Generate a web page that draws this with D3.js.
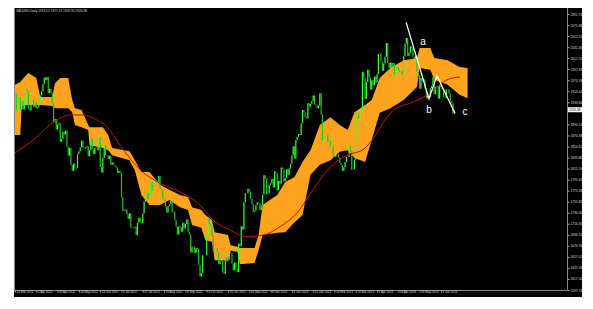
<!DOCTYPE html>
<html>
<head>
<meta charset="utf-8">
<script src="https://cdn.jsdelivr.net/npm/d3@7"></script>
<style>
  body { margin: 0; background: #fff; }
  text { font-family: "Liberation Sans", "DejaVu Sans", sans-serif; }
</style>
</head>
<body>
<svg id="chart" width="593" height="309"></svg>
<script>
// XAUUSD daily closes, 14 Mar 2022 .. 23 Jun 2023 (one per trading day)
const closes = [
  1950, 1918, 1927, 1943, 1921, 1936, 1921, 1944, 1958, 1954,
  1922, 1919, 1933, 1937, 1925, 1933, 1923, 1925, 1931, 1946,
  1954, 1966, 1978, 1973, 1979, 1950, 1958, 1951, 1932,
  1898, 1904, 1885, 1894, 1896, 1863, 1868, 1881, 1876, 1883,
  1854, 1838, 1852, 1821, 1811, 1824, 1815, 1816, 1841, 1846,
  1853, 1865, 1853, 1851, 1853, 1855, 1837, 1848, 1869, 1850,
  1841, 1852, 1853, 1848, 1871, 1818, 1808, 1834, 1857, 1839,
  1838, 1832, 1838, 1822, 1826, 1822, 1820, 1817, 1807, 1811,
  1808, 1764, 1739, 1740, 1742, 1733, 1725, 1735, 1709, 1708,
  1709, 1711, 1696, 1718, 1727, 1719, 1717, 1735, 1756, 1766,
  1772, 1760, 1765, 1791, 1775, 1789, 1795, 1792, 1789, 1802,
  1779, 1776, 1761, 1758, 1747, 1736, 1748, 1751, 1758, 1737,
  1738, 1723, 1711, 1697, 1712, 1710, 1702, 1718, 1708, 1716,
  1724, 1702, 1697, 1665, 1675, 1675, 1664, 1673, 1671, 1643,
  1622, 1628, 1660, 1660, 1660, 1699, 1725, 1716, 1712, 1695,
  1668, 1666, 1673, 1666, 1644, 1650, 1652, 1629, 1627, 1657,
  1649, 1652, 1665, 1663, 1645, 1633, 1647, 1636, 1630, 1681,
  1676, 1712, 1706, 1755, 1771, 1771, 1779, 1774, 1761, 1751,
  1738, 1740, 1750, 1755, 1754, 1741, 1749, 1768, 1803, 1797,
  1769, 1771, 1786, 1789, 1797, 1781, 1810, 1807, 1776, 1793,
  1788, 1817, 1814, 1792, 1798, 1814, 1804, 1815, 1824,
  1839, 1855, 1833, 1866, 1872, 1877, 1875, 1896, 1920,
  1916, 1908, 1905, 1932, 1926, 1931, 1936, 1946, 1930, 1928,
  1923, 1928, 1950, 1912, 1865, 1867, 1874, 1876, 1862, 1865,
  1854, 1854, 1836, 1836, 1842, 1841, 1835, 1825, 1821, 1811,
  1817, 1827, 1836, 1836, 1855, 1847, 1813, 1814, 1831, 1868,
  1913, 1904, 1918, 1922, 1988, 1978, 1940, 1970, 1992, 1978,
  1956, 1973, 1964, 1980, 1969, 1984, 2020, 2021, 2007,
  1990, 2003, 2015, 2040, 2004, 1995, 2005, 1995, 2004, 1982,
  1990, 1997, 1990, 1988, 1990, 1983, 2016, 2039, 2049, 2017,
  2022, 2034, 2031, 2015, 2011, 2017, 1989, 1982, 1958, 1977,
  1971, 1975, 1958, 1941, 1946, 1943, 1959, 1963, 1978, 1948,
  1961, 1963, 1940, 1965, 1961, 1957, 1943, 1942, 1957, 1957,
  1950, 1936, 1932, 1913, 1920
];
const firstDay = '2022-03-14';
const holidays = ['2022-04-15', '2022-12-26', '2023-01-02', '2023-04-07'];

const dateTicks = [
  '14 Mar 2022', '5 Apr 2022', '28 Apr 2022', '20 May 2022', '13 Jun 2022',
  '5 Jul 2022', '27 Jul 2022', '18 Aug 2022', '9 Sep 2022', '3 Oct 2022',
  '25 Oct 2022', '16 Nov 2022', '8 Dec 2022', '3 Jan 2023', '25 Jan 2023',
  '16 Feb 2023', '10 Mar 2023', '3 Apr 2023', '26 Apr 2023', '18 May 2023',
  '9 Jun 2023'
];
const priceTicks = [
  2091.74, 2071.98, 2052.22, 2032.46, 2012.70, 1992.94, 1973.18, 1953.42,
  1933.66, 1894.14, 1874.38, 1854.62, 1834.86, 1815.10, 1795.34,
  1775.58, 1755.82, 1736.06, 1716.30, 1696.54, 1676.78, 1657.02, 1637.26,
  1617.50, 1597.74
];
const lastPrice = 1920.38;
const header = 'XAUUSD,Daily  1913.52 1927.23 1909.95 1920.38';

// ichimoku cloud (span edges)
const cloudBar = [0, 4, 5, 10, 16, 19, 28, 30, 34, 40, 43, 45, 50, 55, 56, 66, 70, 73, 86, 90,
  95, 101, 109, 116, 124, 130, 133, 140, 143, 148, 150, 160, 162, 167, 169, 180, 183, 186,
  197, 203, 210, 216, 222, 229, 237, 244, 250, 255, 263, 268, 274, 282, 292, 302, 304, 312,
  315, 325, 334, 340];
const cloudTop = [1965, 1970, 1973, 1986, 1977, 1943, 1943, 1968, 1977, 1977, 1938, 1923, 1920,
  1893, 1889, 1889, 1875, 1852, 1846, 1830, 1809, 1809, 1786, 1777, 1768, 1764, 1746, 1741,
  1732, 1723, 1701, 1696, 1678, 1675, 1673, 1673, 1696, 1750, 1768, 1791, 1800, 1827, 1848,
  1893, 1907, 1893, 1884, 1916, 1929, 1938, 1977, 1995, 2009, 2013, 2031, 2031, 2013, 2009,
  1997, 1995];
const cloudBot = [1875, 1875, 1927, 1929, 1929, 1929, 1927, 1923, 1923, 1923, 1916, 1893, 1889,
  1884, 1857, 1852, 1848, 1839, 1830, 1812, 1768, 1750, 1750, 1759, 1746, 1741, 1714, 1709,
  1687, 1684, 1651, 1651, 1668, 1666, 1644, 1646, 1669, 1696, 1700, 1701, 1719, 1732, 1804,
  1822, 1830, 1845, 1848, 1834, 1827, 1866, 1915, 1923, 1938, 1961, 1995, 1992, 1974, 1965,
  1947, 1941];

// moving average (red)
const maBar = [0, 13.5, 28.6, 41.3, 51.1, 61.6, 69.1, 78.9, 93.9, 108.9, 124, 139, 148.8,
  161.5, 174.3, 186.3, 199.1, 211.9, 223.9, 236.7, 249.4, 261.5, 270.5, 278, 285.5, 296.8,
  311.8, 324.6, 334.3];
const maVal = [1843, 1866, 1898, 1911, 1911, 1902, 1890, 1857, 1813, 1789, 1773, 1750, 1723,
  1705, 1693, 1696, 1711, 1736, 1777, 1818, 1839, 1849, 1873, 1902, 1922, 1932, 1950, 1974,
  1979];

// hand-drawn a-b-c wave
const waveBar = [293.8, 311, 317, 330.6];
const wavePrice = [2077, 1940, 1981, 1914];
const waveNames = ['a', 'b', 'c'];
const waveNameBar = [306.5, 311, 338];
const waveNamePrice = [2042, 1920, 1918];

// ---------- layout ----------
const svg = d3.select('#chart');
const plotL = 15, plotR = 567, plotT = 8, plotB = 290;

svg.append('rect')
  .attr('x', 14).attr('y', 8).attr('width', 568).attr('height', 289)
  .attr('fill', '#000');

// trading days
const parseIso = d3.timeParse('%Y-%m-%d');
const fmtIso = d3.timeFormat('%Y-%m-%d');
const fmtLabel = d3.timeFormat('%-d %b %Y');
const days = [];
let day = parseIso(firstDay);
while (days.length < closes.length) {
  const wd = day.getDay();
  if (wd !== 0 && wd !== 6 && !holidays.includes(fmtIso(day))) days.push(fmtLabel(day));
  day = d3.timeDay.offset(day, 1);
}

const x = d3.scaleLinear().domain([0, 414.7]).range([plotL, plotR]);
const y = d3.scaleLinear().domain([1597.74, 2091.74]).range([plotB, 14]);

svg.append('clipPath').attr('id', 'plot')
  .append('rect').attr('x', 14).attr('y', plotT).attr('width', plotR - 14).attr('height', plotB - plotT);
const g = svg.append('g').attr('clip-path', 'url(#plot)');

// cloud
const cloud = cloudBar.map((b, i) => ({ b: b, hi: cloudTop[i], lo: cloudBot[i] }));
g.append('path')
  .datum(cloud)
  .attr('d', d3.area().x(p => x(p.b)).y0(p => y(p.lo)).y1(p => y(p.hi)))
  .attr('fill', '#ffa41c');

// price bars (open = previous close)
g.selectAll('line.bar')
  .data(closes)
  .join('line')
  .attr('class', 'bar')
  .attr('x1', (c, i) => x(i)).attr('x2', (c, i) => x(i))
  .attr('y1', (c, i) => y(i ? closes[i - 1] : c + 4))
  .attr('y2', c => y(c))
  .attr('stroke', (c, i) => (i && c < closes[i - 1]) ? '#22c722' : '#3bff3b')
  .attr('stroke-width', 1.2);

// moving average
g.append('path')
  .datum(maBar.map((b, i) => [b, maVal[i]]))
  .attr('d', d3.line().x(p => x(p[0])).y(p => y(p[1])).curve(d3.curveMonotoneX))
  .attr('fill', 'none')
  .attr('stroke', '#c41212')
  .attr('stroke-width', 1);

// wave lines
g.append('path')
  .datum(waveBar.map((b, i) => [b, wavePrice[i]]))
  .attr('d', d3.line().x(p => x(p[0])).y(p => y(p[1])))
  .attr('fill', 'none')
  .attr('stroke', '#fff')
  .attr('stroke-width', 1.2);

g.selectAll('text.wave')
  .data(waveNames)
  .join('text')
  .attr('class', 'wave')
  .text(t => t)
  .attr('x', (t, i) => x(waveNameBar[i]))
  .attr('y', (t, i) => y(waveNamePrice[i]))
  .attr('fill', '#fff')
  .attr('font-size', '10px')
  .attr('text-anchor', 'middle')
  .attr('dominant-baseline', 'central');

// left frame line
svg.append('line').attr('x1', 14.5).attr('x2', 14.5).attr('y1', plotT).attr('y2', plotB)
  .attr('stroke', '#888').attr('stroke-width', 1);

// right price axis
const yAxis = svg.append('g')
  .attr('transform', `translate(${plotR + 0.5},0)`)
  .call(d3.axisRight(y).tickValues(priceTicks).tickSize(2).tickPadding(1).tickFormat(d3.format('.2f')));
yAxis.select('.domain').attr('stroke', '#888').attr('d', `M0,${plotT}V${plotB}`);
yAxis.selectAll('.tick line').attr('stroke', '#aaa');
yAxis.selectAll('.tick text').attr('fill', '#ddd').attr('font-size', '3.2px');

// current price box
svg.append('rect')
  .attr('x', plotR + 1).attr('y', y(lastPrice) - 2.5).attr('width', 14).attr('height', 5)
  .attr('fill', '#fff');
svg.append('text')
  .text(lastPrice.toFixed(2))
  .attr('x', plotR + 2).attr('y', y(lastPrice))
  .attr('dominant-baseline', 'central')
  .attr('font-size', '3.2px').attr('fill', '#000');

// bottom time axis
const tickIdx = dateTicks.map(t => days.indexOf(t));
const xAxis = svg.append('g')
  .attr('transform', `translate(0,${plotB + 0.5})`)
  .call(d3.axisBottom(x).tickValues(tickIdx).tickSize(2).tickPadding(0)
    .tickFormat((v, i) => dateTicks[i]));
xAxis.select('.domain').attr('stroke', '#888').attr('d', `M14,0H${plotR}`);
xAxis.selectAll('.tick line').attr('stroke', '#aaa');
xAxis.selectAll('.tick text')
  .attr('fill', '#ddd').attr('font-size', '3px')
  .attr('text-anchor', 'start').attr('dx', '1px').attr('dy', '0.2em');

// header
svg.append('text')
  .text(header)
  .attr('x', 16).attr('y', 12)
  .attr('fill', '#ddd')
  .attr('font-size', '3.2px');
</script>
</body>
</html>
